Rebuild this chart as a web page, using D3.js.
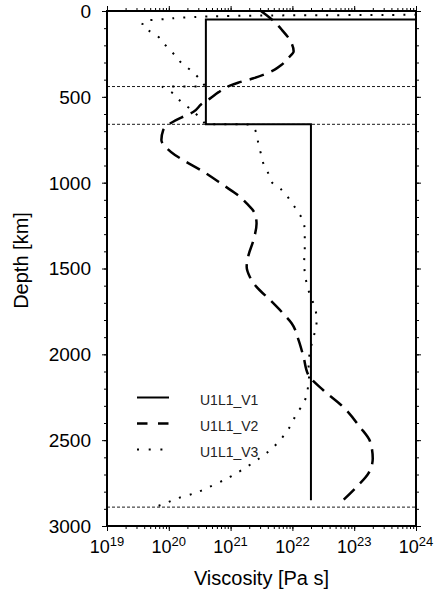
<!DOCTYPE html>
<html>
<head>
<meta charset="utf-8">
<script src="https://cdn.jsdelivr.net/npm/d3@7"></script>
<style>
  body { margin: 0; background: #fff; }
  text { font-family: "Liberation Sans", Arial, Helvetica, sans-serif; fill: #000; }
  .legend text { fill: #222; }
</style>
</head>
<body>
<svg class="svg-chart" width="436" height="597"></svg>
<script>
// depth in km, viscosity given as log10(eta / Pa s)
var v1Depth = [0, 50, 50, 660, 660, 2850];
var v1LogEta = [24, 24, 20.6, 20.6, 22.3, 22.3];

var v2Depth = [0, 50, 110, 170, 235, 275, 315, 340, 392, 418, 435, 474, 509, 542, 587, 620, 645, 693,
  752, 800, 839, 868, 936, 1014, 1082, 1121, 1179, 1238, 1335, 1422, 1490, 1548, 1607, 1684, 1762,
  1820, 1917, 2015, 2121, 2209, 2306, 2422, 2510, 2607, 2694, 2772, 2850];
var v2LogEta = [21.49, 21.67, 21.83, 21.96, 22.02, 21.93, 21.82, 21.72, 21.37, 21.12, 20.99, 20.8, 20.67,
  20.53, 20.4, 20.21, 20.07, 19.91, 19.88, 19.97, 20.1, 20.23, 20.56, 20.88, 21.15, 21.26, 21.39, 21.42,
  21.37, 21.29, 21.26, 21.31, 21.42, 21.64, 21.85, 21.99, 22.1, 22.18, 22.26, 22.5, 22.82, 23.09, 23.26,
  23.3, 23.23, 23.04, 22.82];

var v3Depth = [20, 22, 23, 25, 29, 37, 48, 57, 87, 120, 150, 185, 227, 266, 301, 338, 373, 412, 439,
  441, 480, 515, 548, 596, 645, 659, 661, 688, 738, 791, 843, 888, 946, 995, 1043, 1101, 1160, 1228,
  1286, 1344, 1403, 1461, 1568, 1626, 1704, 1782, 1840, 1888, 1995, 2053, 2111, 2170, 2286, 2345,
  2422, 2500, 2558, 2597, 2656, 2714, 2762, 2811, 2840, 2879, 2890];
var v3LogEta = [24, 24, 23.5, 22.1, 21, 20.3, 19.9, 19.6, 19.57, 19.7, 19.83, 19.91, 20.02, 20.12, 20.2,
  20.33, 20.44, 20.53, 20.58, 19.9, 20.07, 20.16, 20.27, 20.43, 20.56, 20.6, 21.3, 21.39, 21.43, 21.46,
  21.5, 21.53, 21.61, 21.66, 21.83, 21.96, 22.07, 22.18, 22.2, 22.2, 22.2, 22.19, 22.22, 22.26, 22.34,
  22.39, 22.39, 22.35, 22.28, 22.26, 22.27, 22.26, 22.18, 22.07, 21.96, 21.8, 21.64, 21.5, 21.26, 20.99,
  20.72, 20.4, 20.13, 19.86, 19.75];

var seriesNames = ["U1L1_V1", "U1L1_V2", "U1L1_V3"];
var boundaryDepths = [440, 660, 2890];
var xTickExponents = [19, 20, 21, 22, 23, 24];
var yTickValues = [0, 500, 1000, 1500, 2000, 2500, 3000];

var svg = d3.select(".svg-chart");
var margin = { top: 11, right: 20, bottom: 71, left: 107 };
var width = +svg.attr("width") - margin.left - margin.right;
var height = +svg.attr("height") - margin.top - margin.bottom;

var x = d3.scaleLog().domain([1e19, 1e24]).range([0, width]);
var y = d3.scaleLinear().domain([0, 3000]).range([0, height]);

var g = svg.append("g")
  .attr("transform", "translate(" + margin.left + "," + margin.top + ")");

function toPoints(depths, logs) {
  return depths.map(function (d, i) { return { depth: d, eta: Math.pow(10, logs[i]) }; });
}

var styles = [
  { data: toPoints(v1Depth, v1LogEta), dash: null, width: 2, curve: d3.curveLinear, legendDash: null },
  { data: toPoints(v2Depth, v2LogEta), dash: "15,8", width: 2.5, curve: d3.curveMonotoneY, legendDash: "10.5,10.5" },
  { data: toPoints(v3Depth, v3LogEta), dash: "2,9", width: 2, curve: d3.curveMonotoneY, legendDash: "2,9.7" }
];

// phase boundaries
g.selectAll(".boundary")
  .data(boundaryDepths)
  .enter().append("line")
  .attr("class", "boundary")
  .attr("x1", 0).attr("x2", width)
  .attr("y1", function (d) { return y(d); })
  .attr("y2", function (d) { return y(d); })
  .attr("stroke", "#000")
  .attr("stroke-width", 0.9)
  .attr("stroke-dasharray", "3,2");

// profiles
styles.forEach(function (s) {
  var line = d3.line()
    .curve(s.curve)
    .x(function (d) { return x(d.eta); })
    .y(function (d) { return y(d.depth); });
  g.append("path")
    .datum(s.data)
    .attr("fill", "none")
    .attr("stroke", "#000")
    .attr("stroke-width", s.width)
    .attr("stroke-dasharray", s.dash)
    .attr("d", line);
});

// axes, ticks outward on all four sides
var xMinor = x.ticks();
var yMinor = d3.range(0, 3001, 100);
var xMajor = xTickExponents.map(function (e) { return Math.pow(10, e); });

function noLabels(axis) { return axis.tickFormat("").tickSizeOuter(0); }

g.append("g").attr("transform", "translate(0," + height + ")")
  .call(noLabels(d3.axisBottom(x).tickValues(xMinor).tickSize(3)));
g.append("g").attr("transform", "translate(0," + height + ")")
  .call(noLabels(d3.axisBottom(x).tickValues(xMajor).tickSize(5)));
g.append("g")
  .call(noLabels(d3.axisTop(x).tickValues(xMinor).tickSize(3)));
g.append("g")
  .call(noLabels(d3.axisTop(x).tickValues(xMajor).tickSize(5)));
g.append("g")
  .call(noLabels(d3.axisLeft(y).tickValues(yMinor).tickSize(3)));
g.append("g")
  .call(noLabels(d3.axisLeft(y).tickValues(yTickValues).tickSize(5)));
g.append("g").attr("transform", "translate(" + width + ",0)")
  .call(noLabels(d3.axisRight(y).tickValues(yMinor).tickSize(3)));
g.append("g").attr("transform", "translate(" + width + ",0)")
  .call(noLabels(d3.axisRight(y).tickValues(yTickValues).tickSize(5)));

g.selectAll(".domain").remove();
g.selectAll(".tick line").attr("stroke", "#000").attr("stroke-width", 1);

// frame
g.append("rect")
  .attr("width", width)
  .attr("height", height)
  .attr("fill", "none")
  .attr("stroke", "#000")
  .attr("stroke-width", 2);

// tick labels
g.selectAll(".ylabel")
  .data(yTickValues)
  .enter().append("text")
  .attr("class", "ylabel")
  .attr("x", -16)
  .attr("y", function (d) { return y(d); })
  .attr("dy", "0.36em")
  .attr("text-anchor", "end")
  .style("font-size", "19px")
  .text(function (d) { return d; });

var xl = g.selectAll(".xlabel")
  .data(xTickExponents)
  .enter().append("text")
  .attr("class", "xlabel")
  .attr("x", function (d) { return x(Math.pow(10, d)); })
  .attr("y", height + 27)
  .attr("text-anchor", "middle")
  .style("font-size", "18px");
xl.append("tspan").text("10");
xl.append("tspan")
  .attr("dy", -7)
  .style("font-size", "13px")
  .text(function (d) { return d; });

// axis titles
svg.append("text")
  .attr("x", margin.left + width / 2)
  .attr("y", 585)
  .attr("text-anchor", "middle")
  .style("font-size", "20px")
  .text("Viscosity [Pa s]");

svg.append("text")
  .attr("transform", "translate(28," + (margin.top + height / 2 - 8) + ") rotate(-90)")
  .attr("text-anchor", "middle")
  .style("font-size", "20px")
  .text("Depth [km]");

// legend
var legend = svg.append("g").attr("class", "legend");
var legendRows = legend.selectAll("g")
  .data(styles)
  .enter().append("g")
  .attr("transform", function (d, i) { return "translate(137," + (397.5 + i * 26) + ")"; });
legendRows.append("line")
  .attr("x1", 0).attr("x2", 32)
  .attr("stroke", "#000")
  .attr("stroke-width", function (d) { return d.width; })
  .attr("stroke-dasharray", function (d) { return d.legendDash; });
legendRows.append("text")
  .attr("x", 63)
  .attr("y", 7)
  .style("font-size", "14px")
  .text(function (d, i) { return seriesNames[i]; });
</script>
</body>
</html>
